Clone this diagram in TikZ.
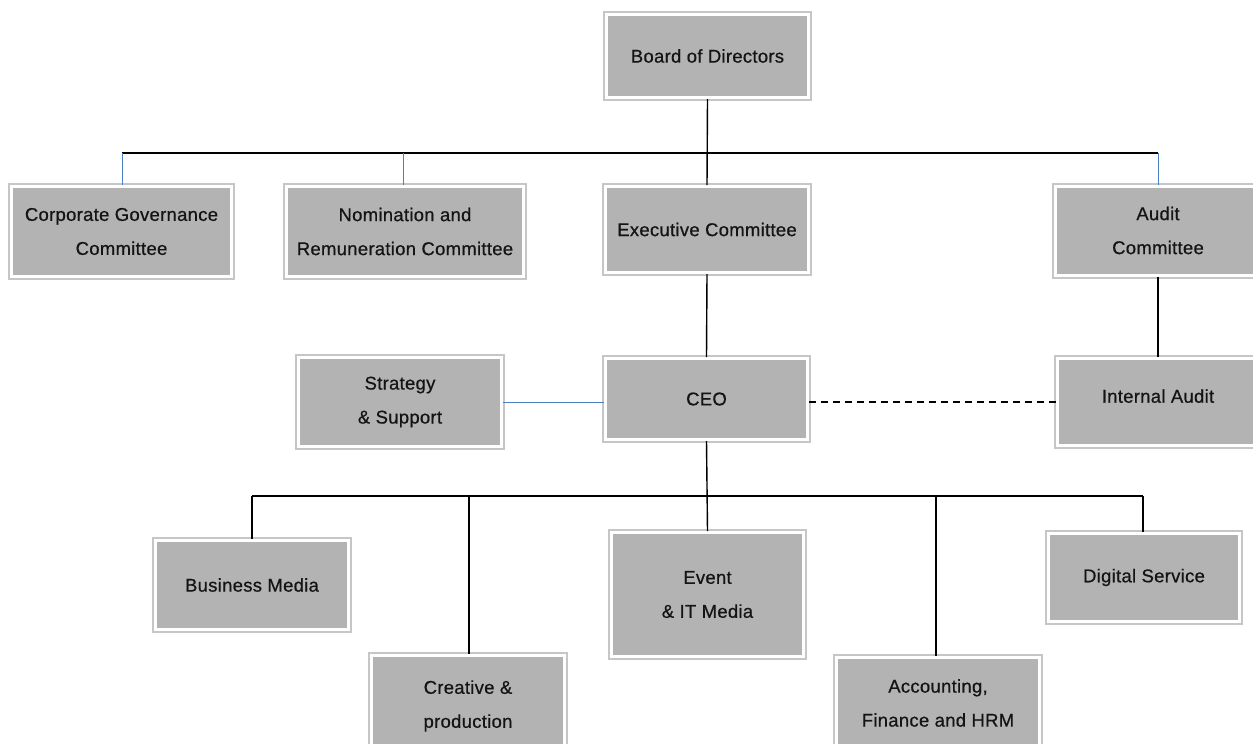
\documentclass[tikz,border=0pt]{standalone}
\usepackage{fontspec}
\setmainfont{Liberation Sans}[LetterSpace=1.5, FakeBold=0.6]
\definecolor{boxfill}{HTML}{B3B3B3}
\definecolor{boxedge}{HTML}{C6C6C6}
\definecolor{txt}{HTML}{141414}
\definecolor{linkblue}{HTML}{4A7FC1}
\begin{document}
\begin{tikzpicture}[x=1pt,y=-1pt,
  orgbox/.style={fill=boxfill, draw=white, line width=3pt,
    preaction={draw=boxedge, line width=7pt},
    inner sep=0pt, align=center, text=txt,
    font=\fontsize{18.5}{34}\selectfont},
  conn/.style={line width=1.4pt, black},
  blueconn/.style={line width=1pt, linkblue},
  dashconn/.style={line width=1.2pt, black, dash pattern=on 7pt off 5pt}]
\useasboundingbox (0,0) rectangle (1253,744);
\node[orgbox, minimum width=202pt, minimum height=83pt] (board) at (707.5,56) {Board of Directors};
\node[orgbox, minimum width=220pt, minimum height=90pt] (corp) at (121.5,231.5) {Corporate Governance\\Committee};
\node[orgbox, minimum width=237pt, minimum height=90pt] (nom) at (405,231.5) {Nomination and\\Remuneration Committee};
\node[orgbox, minimum width=203pt, minimum height=86pt] (exec) at (707,229.5) {Executive Committee};
\node[orgbox, minimum width=205pt, minimum height=89pt] (audit) at (1158,230.5) {Audit\\Committee};
\node[orgbox, minimum width=203pt, minimum height=89pt] (strat) at (400,402) {Strategy\\\& Support};
\node[orgbox, minimum width=202pt, minimum height=81pt] (ceo) at (706.5,399) {CEO};
\node[orgbox, minimum width=201pt, minimum height=87pt, text depth=12pt] (internal) at (1158,402) {Internal Audit};
\node[orgbox, minimum width=193pt, minimum height=89pt] (business) at (252,585) {Business Media};
\node[orgbox, minimum width=193pt, minimum height=101pt] (creative) at (468,706) {Creative \&\\production};
\node[orgbox, minimum width=192pt, minimum height=124pt] (event) at (707.5,594.5) {Event\\\& IT Media};
\node[orgbox, minimum width=191pt, minimum height=88pt] (digital) at (1144,577.5) {Digital Service};
\node[orgbox, minimum width=203pt, minimum height=91pt] (acct) at (938,703) {Accounting,\\Finance and HRM};
% top bus
\coordinate (busA) at (122,153);
\coordinate (busB) at (1158,153);
\coordinate (nomx) at (403,153);
\draw[conn] (busA) -- (busB);
\draw[conn] (board.south) -- (exec.north);
\draw[blueconn] (busA) -- (busA |- corp.north);
\draw[blueconn] (nomx) -- (nomx |- nom.north);
\draw[blueconn] (busB) -- (audit.north);
\draw[conn] (exec.south) -- (ceo.north);
\draw[conn] (audit.south) -- (internal.north);
\draw[blueconn] (strat.east) -- (strat.east -| ceo.west);
\draw[dashconn] (ceo.east |- internal.west) -- (internal.west);
% bottom bus
\coordinate (busC) at (252,496);
\coordinate (busD) at (1143,496);
\coordinate (crx) at (469,496);
\coordinate (acx) at (936,496);
\draw[conn] (busC) -- (busD);
\draw[conn] (ceo.south) -- (event.north);
\draw[conn] (busC) -- (business.north);
\draw[conn] (crx) -- (crx |- creative.north);
\draw[conn] (acx) -- (acx |- acct.north);
\draw[conn] (busD) -- (busD |- digital.north);
\end{tikzpicture}
\end{document}
